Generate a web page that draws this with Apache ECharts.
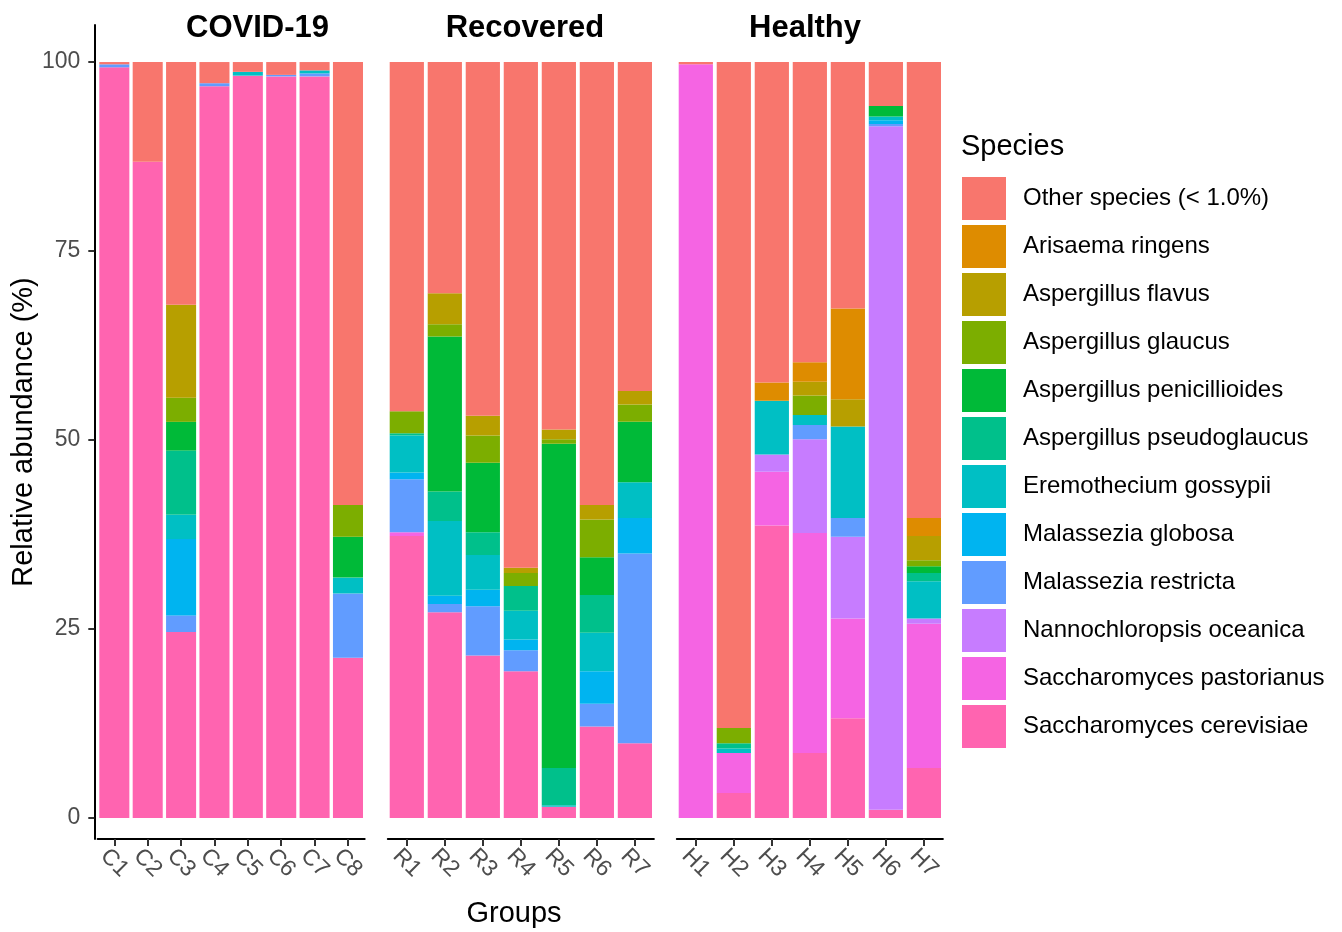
<!DOCTYPE html>
<html>
<head>
<meta charset="utf-8">
<script src="https://cdn.jsdelivr.net/npm/echarts@6/dist/echarts.min.js"></script>
<style>
html,body{margin:0;padding:0;background:#fff;}
#chart{width:1342px;height:932px;}
</style>
</head>
<body>
<div id="chart"></div>
<script>
// ---- Data ----
const panelTitles = ['COVID-19', 'Recovered', 'Healthy'];
const covidSamples = ['C1','C2','C3','C4','C5','C6','C7','C8'];
const recoveredSamples = ['R1','R2','R3','R4','R5','R6','R7'];
const healthySamples = ['H1','H2','H3','H4','H5','H6','H7'];
const yTicks = [0, 25, 50, 75, 100];

// Species in stacking order (bottom -> top); values per sample C1..C8, R1..R7, H1..H7
const speciesNames = [
  'Saccharomyces cerevisiae','Saccharomyces pastorianus','Nannochloropsis oceanica',
  'Malassezia restricta','Malassezia globosa','Eremothecium gossypii',
  'Aspergillus pseudoglaucus','Aspergillus penicillioides','Aspergillus glaucus',
  'Aspergillus flavus','Arisaema ringens','Other species (< 1.0%)'
];
const speciesColors = [
  '#FF64B0','#F564E3','#C77CFF','#619CFF','#00B4F0','#00BFC4',
  '#00C08B','#00BA38','#7CAE00','#B79F00','#DE8C00','#F8766D'
];
const saccharomycesCerevisiae  = [99.3,86.8,24.6,96.8,98.2,98.1,98.1,21.2, 37.3,27.2,21.5,19.4,1.5,12.1,9.9, 0,3.3,38.7,8.6,13.2,1.1,6.6];
const saccharomycesPastorianus = [0,0,0,0,0,0,0,0, 0.5,0,0,0,0,0,0, 99.7,5.3,7.1,29.1,13.2,0,19.1];
const nannochloropsisOceanica  = [0,0,0,0,0,0,0,0, 0,0,0,0,0,0,0, 0,0,2.3,12.4,10.8,90.4,0.7];
const malasseziaRestricta      = [0.4,0,2.2,0.4,0,0.2,0.4,8.5, 7.0,1.1,6.5,2.8,0,3.0,25.1, 0,0,0,1.9,2.5,0.3,0];
const malasseziaGlobosa        = [0,0,10.1,0,0,0,0,0, 0.9,1.1,2.2,1.4,0,4.3,4.7, 0,0,0,0,0,0.5,0];
const eremotheciumGossypii     = [0,0,3.2,0,0.5,0,0.4,2.1, 4.9,9.9,4.6,3.8,0.2,5.1,4.7, 0,0.6,7.1,1.3,12.1,0.5,4.9];
const aspergillusPseudoglaucus = [0,0,8.5,0,0,0,0,0, 0.3,3.9,3.0,3.3,4.9,5.0,0, 0,0.7,0,0,0,0,1.1];
const aspergillusPenicillioides= [0,0,3.8,0,0,0,0,5.4, 0,20.5,9.2,0,42.9,5.0,8.0, 0,0,0,0,0,1.4,0.9];
const aspergillusGlaucus       = [0,0,3.2,0,0,0,0,4.2, 2.9,1.6,3.6,1.7,0.6,5.0,2.3, 0,2.0,0,2.6,0,0,0.8];
const aspergillusFlavus        = [0,0,12.3,0,0,0,0,0, 0,4.1,2.6,0.7,1.3,1.9,1.8, 0,0,0,1.8,3.6,0,3.2];
const arisaemaRingens          = [0,0,0,0,0,0,0,0, 0,0,0,0,0,0,0, 0,0,2.4,2.6,12.0,0,2.4];
const otherSpecies             = [0.3,13.2,32.1,2.8,1.3,1.7,1.1,58.6, 46.2,30.6,46.8,66.9,48.6,58.6,43.5, 0.3,88.1,42.4,39.7,32.6,5.8,60.3];

const speciesValues = [
  saccharomycesCerevisiae, saccharomycesPastorianus, nannochloropsisOceanica,
  malasseziaRestricta, malasseziaGlobosa, eremotheciumGossypii,
  aspergillusPseudoglaucus, aspergillusPenicillioides, aspergillusGlaucus,
  aspergillusFlavus, arisaemaRingens, otherSpecies
];

// ---- Chart ----
const panels = [covidSamples, recoveredSamples, healthySamples];
const FONT = '"Liberation Sans", Arial, sans-serif';
// panel extents (ggplot panels) in px
const panelBox = [[94.3, 368], [384, 657.7], [673, 946.7]];
const grids = [], xAxes = [], yAxes = [], series = [];
let offsetIdx = 0;
panels.forEach((cats, g) => {
  const [l, r] = panelBox[g];
  const band = (r - l) / (cats.length + 0.2);
  const innerL = l + 0.1 * band, innerR = r - 0.1 * band;
  grids.push({left: innerL, right: 1342 - innerR, top: 25, bottom: 932 - 839});
  xAxes.push({
    type: 'category', gridIndex: g, data: cats,
    axisLine: {show: true, onZero: false, lineStyle: {color: '#000', width: 2}},
    axisTick: {show: true, alignWithLabel: true, length: 7, lineStyle: {color: '#333', width: 2}},
    axisLabel: {interval: 0, rotate: -45, align: 'center', verticalAlign: 'middle', margin: 24,
      fontSize: 23, color: '#4D4D4D', fontFamily: FONT},
    splitLine: {show: false}
  });
  yAxes.push({
    type: 'value', gridIndex: g, min: -2.78, max: 104.9, show: g === 0,
    offset: g === 0 ? (innerL - l) : 0,
    axisLine: {show: true, lineStyle: {color: '#000', width: 2}},
    axisTick: {show: true, customValues: yTicks, length: 6, lineStyle: {color: '#333', width: 2}},
    axisLabel: {customValues: yTicks, fontSize: 23, color: '#4D4D4D', margin: 14, fontFamily: FONT},
    splitLine: {show: false},
    name: g === 0 ? 'Relative abundance (%)' : '',
    nameLocation: 'middle', nameGap: 56,
    nameTextStyle: {fontSize: 29, color: '#000', fontFamily: FONT}
  });
  const start = offsetIdx;
  speciesNames.forEach((name, s) => {
    series.push({
      type: 'bar', name: name, xAxisIndex: g, yAxisIndex: g, stack: 'panel' + g,
      barCategoryGap: '10%',
      data: speciesValues[s].slice(start, start + cats.length),
      itemStyle: {color: speciesColors[s]},
      emphasis: {disabled: true}
    });
  });
  offsetIdx += cats.length;
});

const titleCenters = [257.5, 525, 805];
const graphics = panelTitles.map((t, i) => ({
  type: 'text', x: titleCenters[i], y: 28.5,
  style: {text: t, fontSize: 31, fontWeight: 'bold', fill: '#000', fontFamily: FONT,
    textAlign: 'center', textVerticalAlign: 'middle'}
}));
graphics.push({type: 'text', x: 514, y: 914,
  style: {text: 'Groups', fontSize: 29, fill: '#000', fontFamily: FONT, textAlign: 'center', textVerticalAlign: 'middle'}});
graphics.push({type: 'text', x: 961, y: 147,
  style: {text: 'Species', fontSize: 29, fill: '#000', fontFamily: FONT, textAlign: 'left', textVerticalAlign: 'middle'}});

const chart = echarts.init(document.getElementById('chart'), null, {renderer: 'canvas'});
chart.setOption({
  animation: false,
  backgroundColor: '#fff',
  textStyle: {fontFamily: FONT},
  grid: grids, xAxis: xAxes, yAxis: yAxes, series: series,
  legend: {
    orient: 'vertical', left: 962, top: 177, padding: 0,
    itemWidth: 44, itemHeight: 43, itemGap: 5, icon: 'rect', selectedMode: false,
    data: speciesNames.slice().reverse(),
    textStyle: {fontSize: 24, color: '#000', fontFamily: FONT, padding: [0, 0, 0, 12]}
  },
  graphic: graphics
});
</script>
</body>
</html>
